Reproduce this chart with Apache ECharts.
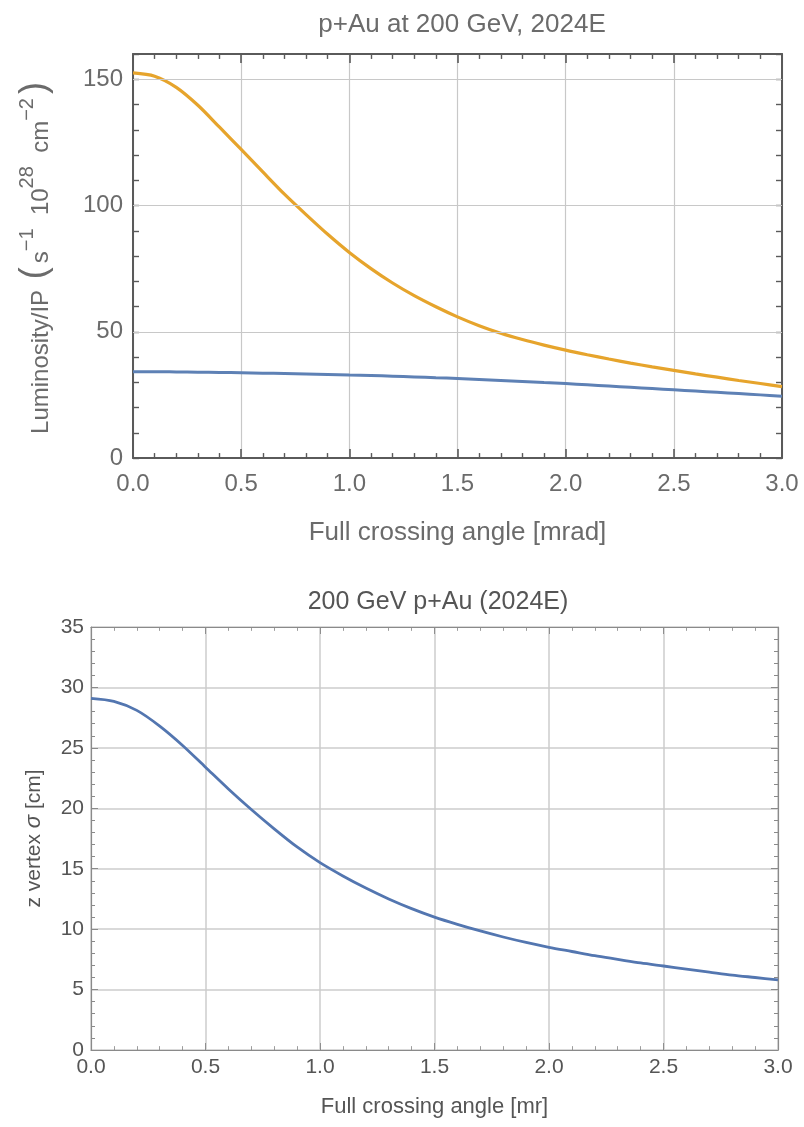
<!DOCTYPE html>
<html>
<head>
<meta charset="utf-8">
<script src="https://cdn.jsdelivr.net/npm/echarts@6/dist/echarts.min.js"></script>
<style>html,body{margin:0;padding:0;background:#fff}#c{width:804px;height:1127px}</style>
</head>
<body>
<div id="c"></div>
<script>
// ---- data ----
var topTitle = 'p+Au at 200 GeV, 2024E';
var bottomTitle = '200 GeV p+Au (2024E)';
var xTop = [0,0.1,0.2,0.3,0.4,0.5,0.6,0.7,0.8,0.9,1.0,1.1,1.2,1.3,1.4,1.5,1.6,1.7,1.8,1.9,2.0,2.1,2.2,2.3,2.4,2.5,2.6,2.7,2.8,2.9,3.0];
var lumOrange = [152.5,151.2,146.8,139.7,131,122.2,113.3,104.5,96.4,88.6,81.4,75,69.3,64.3,59.9,55.9,52.4,49.4,46.9,44.7,42.7,40.9,39.2,37.6,36.1,34.7,33.3,32,30.7,29.5,28.3];
var lumBlue = [34.2,34.2,34.1,34.0,33.9,33.8,33.6,33.5,33.3,33.1,32.9,32.7,32.4,32.1,31.8,31.5,31.1,30.7,30.3,29.9,29.5,29.0,28.5,28.0,27.5,27.0,26.5,26.0,25.5,25.0,24.5];
var xBottom = [0,0.1,0.2,0.3,0.4,0.5,0.6,0.7,0.8,0.9,1.0,1.1,1.2,1.3,1.4,1.5,1.6,1.7,1.8,1.9,2.0,2.1,2.2,2.3,2.4,2.5,2.6,2.7,2.8,2.9,3.0];
var zSigma = [29.1,28.85,28.1,26.8,25.2,23.4,21.6,19.9,18.3,16.8,15.5,14.4,13.4,12.5,11.7,11.0,10.4,9.85,9.35,8.9,8.5,8.15,7.8,7.5,7.2,6.95,6.7,6.45,6.2,6.0,5.8];
var topYTicks = [0,50,100,150];
var topYGrid = [50,100,150];

function zip(xs, ys){ return xs.map(function(x,i){ return [x, ys[i]]; }); }

var chart = echarts.init(document.getElementById('c'), null, {renderer:'canvas'});
var fTop = 'Liberation Sans, Arial, sans-serif';
var topText = '#6b6b6b', botText = '#555';
var topFrame = {show:true, onZero:false, lineStyle:{color:'#5a5a5a', width:2}};
var botFrame = {show:true, onZero:false, lineStyle:{color:'#8a8a8a', width:1.2}};

function xAx(grid, pos, frame, tickLen, extra){
  var a = {
    type:'value', gridIndex:grid, position:pos, min:0, max:3, interval:0.5,
    axisLine: frame,
    axisTick:{show:true, inside:true, length:tickLen, lineStyle:{color:frame.lineStyle.color, width:frame.lineStyle.width*0.8}},
    minorTick:{show:true, splitNumber:5, length:tickLen*0.55, lineStyle:{color:frame.lineStyle.color, width:frame.lineStyle.width*0.7}},
    axisLabel:{show:false},
    splitLine:{show:false}
  };
  for (var k in extra) a[k] = extra[k];
  return a;
}
function topY(pos, extra){
  var a = {type:'value', gridIndex:0, position:pos, min:0, max:160, interval:10,
    axisLine:topFrame,
    axisTick:{show:true, inside:true, length:6, lineStyle:{color:'#5a5a5a', width:1.4}},
    minorTick:{show:false},
    axisLabel:{show:false}, splitLine:{show:false}};
  for (var k in extra) a[k] = extra[k];
  return a;
}

var option = {
  animation:false,
  title:[
    {text: topTitle, left: 457, top: 7, textAlign:'center',
     textStyle:{fontFamily:fTop, fontSize:26, fontWeight:'normal', color:topText}},
    {text: bottomTitle, left: 433, top: 585, textAlign:'center',
     textStyle:{fontFamily:fTop, fontSize:25, fontWeight:'normal', color:'#555'}}
  ],
  grid:[
    {left:133, right:22, top:54, height:404},
    {left:91, right:26, top:627, height:423}
  ],
  xAxis:[
    xAx(0,'bottom',topFrame,9,{
      axisLabel:{show:true, margin:14, fontFamily:fTop, fontSize:24, color:topText, formatter:function(v){return v.toFixed(1);}},
      splitLine:{show:true, lineStyle:{color:'#c8c8c8', width:1.2}},
      name:'Full crossing angle [mrad]', nameLocation:'middle', nameGap:62,
      nameTextStyle:{fontFamily:fTop, fontSize:26, color:topText}
    }),
    xAx(0,'top',topFrame,9,{}),
    xAx(1,'bottom',botFrame,7,{
      axisLabel:{show:true, margin:7, fontFamily:fTop, fontSize:21, color:botText, formatter:function(v){return v.toFixed(1);}},
      splitLine:{show:true, lineStyle:{color:'#cccccc', width:1.5}},
      name:'Full crossing angle [mr]', nameLocation:'middle', nameGap:46,
      nameTextStyle:{fontFamily:fTop, fontSize:22, color:botText}
    }),
    xAx(1,'top',botFrame,7,{})
  ],
  yAxis:[
    topY('left', {
      axisLabel:{show:true, margin:10, fontFamily:fTop, fontSize:24, color:topText,
        formatter:function(v){ return topYTicks.indexOf(v) >= 0 ? String(v) : ''; }},
      name:'{t|Luminosity/IP }{p|(}{t|s}{s|−1}{t|  10}{s|28}{t|  cm}{s|−2}{p|)}', nameLocation:'middle', nameGap:80, nameRotate:90,
      nameTextStyle:{fontFamily:fTop, fontSize:24, color:topText,
        rich:{
          t:{fontFamily:fTop, fontSize:24, lineHeight:25, verticalAlign:'bottom', color:topText},
          s:{fontFamily:fTop, fontSize:20, lineHeight:30, verticalAlign:'top', color:topText},
          p:{fontFamily:fTop, fontSize:36, lineHeight:36, verticalAlign:'middle', color:topText, padding:[0,4,0,4]}
        }}
    }),
    topY('right', {}),
    {type:'value', gridIndex:1, position:'left', min:0, max:35, interval:5,
     axisLine:botFrame,
     axisTick:{show:true, inside:true, length:7, lineStyle:{color:'#8a8a8a', width:1}},
     minorTick:{show:true, splitNumber:5, length:4, lineStyle:{color:'#8a8a8a', width:1}},
     axisLabel:{show:true, margin:7, fontFamily:fTop, fontSize:21, color:botText},
     splitLine:{show:true, lineStyle:{color:'#cccccc', width:1.5}},
     name:'{a|z vertex }{s|σ}{a| [cm]}', nameLocation:'middle', nameGap:46, nameRotate:90,
     nameTextStyle:{fontFamily:fTop, fontSize:21, color:botText,
       rich:{a:{fontFamily:fTop, fontSize:21, color:botText}, s:{fontFamily:fTop, fontSize:22, fontStyle:'italic', color:botText}}}},
    {type:'value', gridIndex:1, position:'right', min:0, max:35, interval:5,
     axisLine:botFrame, axisLabel:{show:false}, splitLine:{show:false},
     axisTick:{show:true, inside:true, length:7, lineStyle:{color:'#8a8a8a', width:1}},
     minorTick:{show:true, splitNumber:5, length:4, lineStyle:{color:'#8a8a8a', width:1}}}
  ],
  series:[
    {type:'line', xAxisIndex:0, yAxisIndex:0, data:zip(xTop, lumBlue), smooth:0.3, showSymbol:false,
     lineStyle:{color:'#5e81b5', width:3}, z:3,
     markLine:{silent:true, symbol:['none','none'], label:{show:false}, animation:false,
       lineStyle:{color:'#c8c8c8', width:1.2, type:'solid'},
       data: topYGrid.map(function(v){ return {yAxis:v}; })}},
    {type:'line', xAxisIndex:0, yAxisIndex:0, data:zip(xTop, lumOrange), smooth:0.3, showSymbol:false,
     lineStyle:{color:'#e6a42c', width:3.2}, z:4},
    {type:'line', xAxisIndex:2, yAxisIndex:2, data:zip(xBottom, zSigma), smooth:0.3, showSymbol:false,
     lineStyle:{color:'#5376b0', width:2.8}, z:3}
  ]
};
chart.setOption(option);
</script>
</body>
</html>
